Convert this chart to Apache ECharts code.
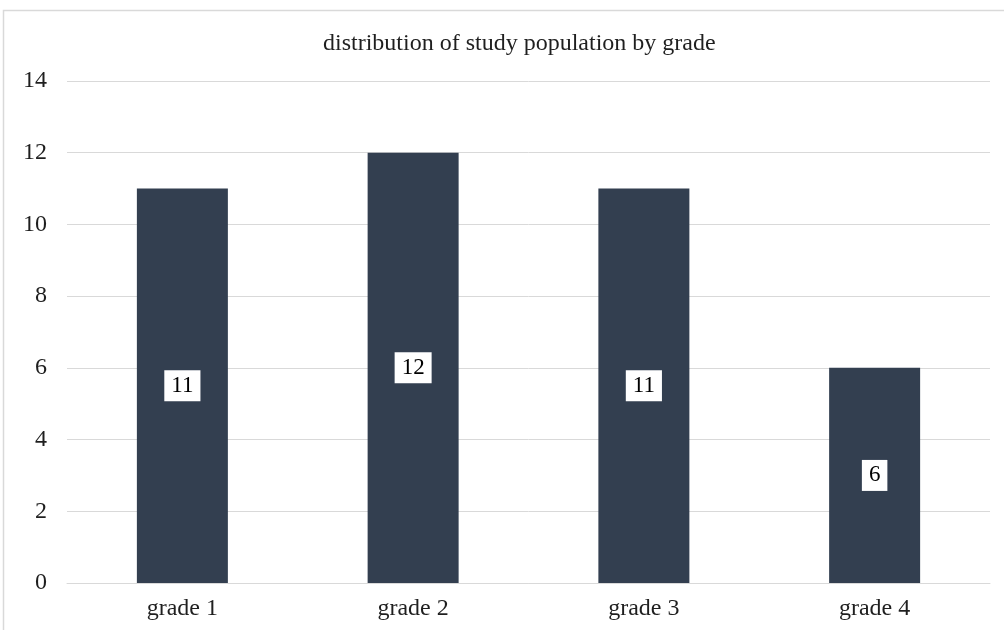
<!DOCTYPE html>
<html>
<head>
<meta charset="utf-8">
<script src="https://cdn.jsdelivr.net/npm/echarts@6/dist/echarts.min.js"></script>
<style>
  html, body { margin: 0; padding: 0; background: #fff; }
  #chart { width: 1004px; height: 630px; }
</style>
</head>
<body>
<div id="chart"></div>
<script>
// Study population counts per grade
const categories = ['grade 1', 'grade 2', 'grade 3', 'grade 4'];
const counts = [11, 12, 11, 6];
const titleText = 'distribution of study population by grade';

const serif = '"Liberation Serif", "Times New Roman", serif';
const chart = echarts.init(document.getElementById('chart'));

chart.setOption({
  animation: false,
  backgroundColor: '#ffffff',
  title: {
    text: titleText,
    left: 318,
    top: 27,
    textStyle: { fontFamily: serif, fontSize: 24, fontWeight: 'normal', color: '#1f1f1f' }
  },
  graphic: [{
    type: 'rect',
    shape: { x: 3.5, y: 10.5, width: 1100, height: 800 },
    style: { fill: 'none', stroke: '#d9d9d9', lineWidth: 1.5 },
    silent: true,
    z: -1
  }],
  grid: { left: 67, right: 14, top: 81, bottom: 47 },
  xAxis: {
    type: 'category',
    data: categories,
    axisLine: { lineStyle: { color: '#d9d9d9', width: 1 } },
    axisTick: { show: false },
    axisLabel: { fontFamily: serif, fontSize: 24, color: '#1f1f1f', margin: 14 }
  },
  yAxis: {
    type: 'value',
    min: 0,
    max: 14,
    interval: 2,
    axisLine: { show: false },
    axisTick: { show: false },
    splitLine: { lineStyle: { color: '#d9d9d9', width: 1 } },
    axisLabel: { fontFamily: serif, fontSize: 24, color: '#1f1f1f', margin: 20 }
  },
  series: [{
    type: 'bar',
    data: counts,
    barWidth: 91,
    itemStyle: { color: '#333f50' },
    label: {
      show: true,
      position: 'inside',
      fontFamily: serif,
      fontSize: 23,
      color: '#000000',
      backgroundColor: '#ffffff',
      padding: [5, 7, 3, 7]
    }
  }]
});
</script>
</body>
</html>
